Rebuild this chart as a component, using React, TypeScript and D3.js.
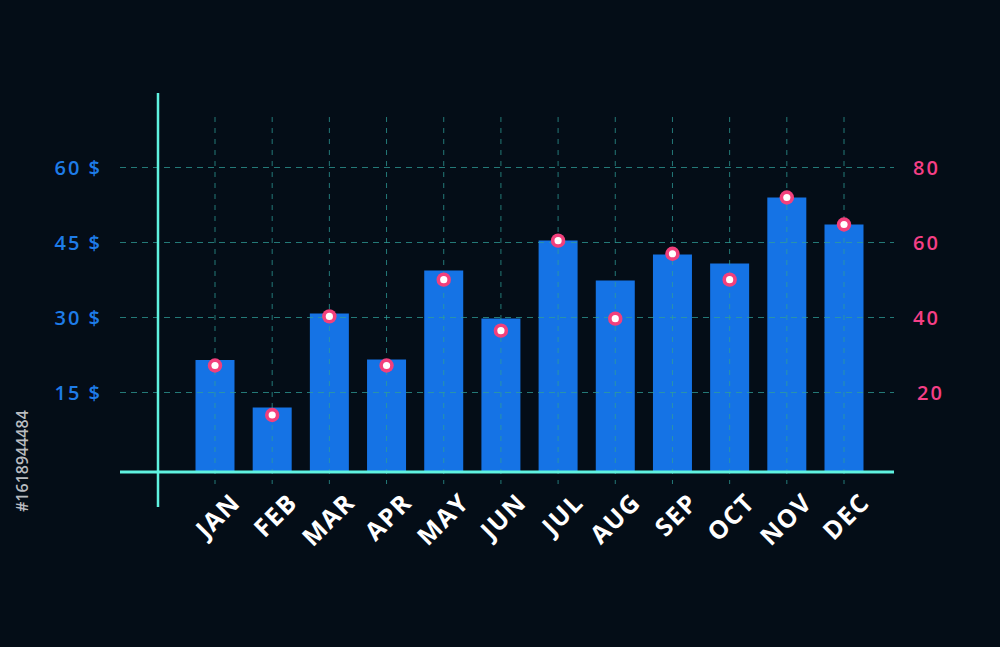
import { useEffect, useRef } from "react";
import * as d3 from "d3";

const months = ["JAN", "FEB", "MAR", "APR", "MAY", "JUN", "JUL", "AUG", "SEP", "OCT", "NOV", "DEC"];
// bar values, left axis ($)
const barValues = [21.5, 12, 30.8, 21.6, 39.4, 29.8, 45.4, 37.4, 42.6, 40.8, 54, 48.6];
// dot values, right axis
const dotValues = [27.2, 14, 40.3, 27.2, 50.1, 36.5, 60.5, 39.7, 57, 50.1, 72, 64.8];
const leftTicks = [15, 30, 45, 60];
const rightTicks = [20, 40, 60, 80];

const W = 1000;
const H = 647;
const FONT = "'Open Sans', 'DejaVu Sans', sans-serif";

export default function App() {
  const svgRef = useRef<SVGSVGElement | null>(null);

  useEffect(() => {
    document.body.style.margin = "0";
    document.body.style.background = "#040d17";
    if (!svgRef.current) return;
    const svg = d3.select(svgRef.current);
    svg.selectAll("*").remove();

    const baseY = 472;
    const x = d3.scalePoint<string>().domain(months).range([215, 844]);
    const yLeft = d3.scaleLinear().domain([0, 60]).range([467.5, 167.5]);
    const yRight = d3.scaleLinear().domain([0, 80]).range([467.5, 167.5]);
    const barW = 39;

    svg.append("rect").attr("width", W).attr("height", H).attr("fill", "#040d17");

    // id on the left edge
    svg
      .append("text")
      .attr("transform", "translate(28,512) rotate(-90)")
      .attr("fill", "#b9bcc0")
      .attr("font-family", FONT)
      .attr("font-weight", 600)
      .attr("font-size", 16)
      .text("#1618944484");

    // bars
    svg
      .append("g")
      .selectAll("rect")
      .data(barValues)
      .enter()
      .append("rect")
      .attr("x", (_d, i) => x(months[i])! - barW / 2)
      .attr("y", d => yLeft(d))
      .attr("width", barW)
      .attr("height", d => baseY - yLeft(d))
      .attr("fill", "#1573e5");

    // grid
    const grid = svg.append("g").attr("stroke", "#2f9e98").attr("stroke-opacity", 0.75).attr("stroke-width", 1).attr("stroke-dasharray", "6,5");
    grid
      .selectAll("line.h")
      .data(leftTicks)
      .enter()
      .append("line")
      .attr("x1", 120)
      .attr("x2", 894)
      .attr("y1", d => yLeft(d))
      .attr("y2", d => yLeft(d));
    grid
      .selectAll("line.v")
      .data(months)
      .enter()
      .append("line")
      .attr("x1", d => x(d)!)
      .attr("x2", d => x(d)!)
      .attr("y1", 117)
      .attr("y2", 484)
      .attr("stroke-dasharray", "5,6");

    // axes
    svg.append("line").attr("x1", 158).attr("x2", 158).attr("y1", 93).attr("y2", 507).attr("stroke", "#5ff2e0").attr("stroke-width", 2.5);
    svg.append("line").attr("x1", 120).attr("x2", 894).attr("y1", baseY).attr("y2", baseY).attr("stroke", "#5ff2e0").attr("stroke-width", 3);

    // left labels
    svg
      .append("g")
      .selectAll("text")
      .data(leftTicks)
      .enter()
      .append("text")
      .attr("x", 102)
      .attr("y", d => yLeft(d) + 7)
      .attr("text-anchor", "end")
      .attr("fill", "#1e7ce8")
      .attr("font-family", FONT)
      .attr("font-weight", 600)
      .attr("font-size", 20)
      .attr("letter-spacing", 2)
      .text(d => `${d} $`);

    // right labels
    svg
      .append("g")
      .selectAll("text")
      .data(rightTicks)
      .enter()
      .append("text")
      .attr("x", d => (d === 20 ? 917 : 913))
      .attr("y", d => yRight(d) + 7)
      .attr("fill", "#f53f86")
      .attr("font-family", FONT)
      .attr("font-weight", 600)
      .attr("font-size", 20)
      .attr("letter-spacing", 2)
      .text(d => d);

    // month labels
    svg
      .append("g")
      .selectAll("text")
      .data(months)
      .enter()
      .append("text")
      .attr("transform", d => `translate(${x(d)! + 27},504) rotate(-45)`)
      .attr("text-anchor", "end")
      .attr("fill", "#ffffff")
      .attr("font-family", FONT)
      .attr("font-weight", 700)
      .attr("font-size", 25)
      .attr("letter-spacing", 1.5)
      .text(d => d);

    // dots
    const dots = svg
      .append("g")
      .selectAll("g")
      .data(dotValues)
      .enter()
      .append("g")
      .attr("transform", (d, i) => `translate(${x(months[i])},${yRight(d)})`);
    dots.append("circle").attr("r", 7.2).attr("fill", "#f2407c");
    dots.append("circle").attr("r", 3.6).attr("fill", "#ffffff");
  }, []);

  return <svg ref={svgRef} width={W} height={H} style={{ display: "block", position: "absolute", left: 0, top: 0 }} />;
}
